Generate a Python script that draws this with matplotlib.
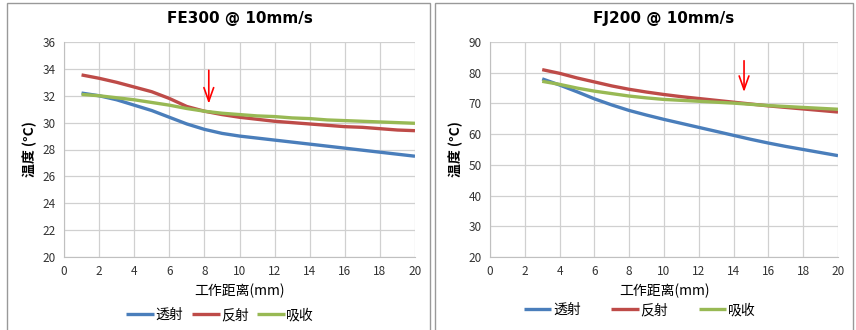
import matplotlib.pyplot as plt
from matplotlib.patches import Rectangle

plt.rcParams['font.family'] = ['Noto Sans CJK SC', 'DejaVu Sans']

# FE300 @ 10mm/s
x_fe = [1, 2, 3, 4, 5, 6, 7, 8, 9, 10, 11, 12, 13, 14, 15, 16, 17, 18, 19, 20]
fe_trans = [32.2, 32.0, 31.7, 31.3, 30.9, 30.4, 29.9, 29.5, 29.2, 29.0,
            28.85, 28.7, 28.55, 28.4, 28.25, 28.1, 27.95, 27.8, 27.65, 27.5]
fe_refl = [33.55, 33.3, 33.0, 32.65, 32.3, 31.8, 31.2, 30.85, 30.6, 30.4,
           30.25, 30.1, 30.0, 29.9, 29.8, 29.7, 29.65, 29.55, 29.45, 29.4]
fe_abs = [32.1, 32.0, 31.85, 31.7, 31.5, 31.3, 31.05, 30.85, 30.7, 30.6,
          30.5, 30.45, 30.35, 30.3, 30.2, 30.15, 30.1, 30.05, 30.0, 29.95]

# FJ200 @ 10mm/s
x_fj = [3, 4, 5, 6, 7, 8, 9, 10, 11, 12, 13, 14, 15, 16, 17, 18, 19, 20]
fj_trans = [78, 76, 73.8, 71.5, 69.5, 67.7, 66.2, 64.8, 63.5, 62.2,
            60.9, 59.6, 58.3, 57.1, 56.0, 55.0, 54.0, 53.0]
fj_refl = [81, 79.8, 78.3, 77, 75.7, 74.6, 73.7, 72.9, 72.2, 71.6,
           71.0, 70.4, 69.8, 69.2, 68.7, 68.2, 67.7, 67.2]
fj_abs = [77.2, 76.2, 75, 74, 73.2, 72.4, 71.8, 71.3, 71.0, 70.7,
          70.4, 70.1, 69.7, 69.3, 69.0, 68.7, 68.4, 68.1]

labels = ['透射', '反射', '吸收']
colors = ['#4A7EBB', '#BE4B48', '#98B954']

fig = plt.figure(figsize=(8.56, 3.3), dpi=100)

# panel frames
fig.patches.append(Rectangle((7/856, -0.1), (430-7)/856, 1.1 - 3/330, transform=fig.transFigure,
                             fill=False, edgecolor='#999999', lw=1))
fig.patches.append(Rectangle((435/856, -0.1), (853-435)/856, 1.1 - 3/330, transform=fig.transFigure,
                             fill=False, edgecolor='#999999', lw=1))

ax1 = fig.add_axes([64/856, 1 - 257/330, (415-64)/856, (257-42)/330])
ax2 = fig.add_axes([490/856, 1 - 257/330, (838-490)/856, (257-42)/330])

panels = [
    (ax1, 'FE300 @ 10mm/s', x_fe, [fe_trans, fe_refl, fe_abs], (20, 36, 2), (8.25, 34.1, 31.2)),
    (ax2, 'FJ200 @ 10mm/s', x_fj, [fj_trans, fj_refl, fj_abs], (20, 90, 10), (14.6, 84.8, 72.8)),
]

for ax, title, xs, series, (ylo, yhi, ystep), (ax_x, ay0, ay1) in panels:
    for ys, lab, c in zip(series, labels, colors):
        ax.plot(xs, ys, color=c, lw=2.4, label=lab, solid_capstyle='butt', solid_joinstyle='round')
    ax.set_xlim(0, 20)
    ax.set_ylim(ylo, yhi)
    ax.set_xticks(range(0, 21, 2))
    ax.set_yticks(range(ylo, yhi + 1, ystep))
    ax.grid(True, color='#D0D0D0', lw=0.9)
    ax.set_axisbelow(True)
    for side in ['top', 'right']:
        ax.spines[side].set_visible(False)
    for side in ['left', 'bottom']:
        ax.spines[side].set_color('#C0C0C0')
    ax.tick_params(length=0, labelsize=8.5, colors='#333333', pad=6)
    ax.set_title(title, fontsize=11, fontweight='bold', pad=14, family='DejaVu Sans')
    ax.set_xlabel('工作距离(mm)', fontsize=10, labelpad=4)
    ax.set_ylabel('温度 (°C)', fontsize=10, fontweight='bold', labelpad=4)
    ax.annotate('', xy=(ax_x, ay1), xytext=(ax_x, ay0),
                arrowprops=dict(arrowstyle='->,head_width=0.25,head_length=0.7',
                                color='red', lw=1.2, mutation_scale=14))

ax1.legend(loc='center', bbox_to_anchor=(0.445, -0.27), ncol=3, frameon=False,
           fontsize=10, handlelength=2.0, handletextpad=0.1, columnspacing=0.6)
ax2.legend(loc='center', bbox_to_anchor=(0.43, -0.247), ncol=3, frameon=False,
           fontsize=10, handlelength=2.0, handletextpad=0.1, columnspacing=2.2)

fig.savefig('out.png', dpi=100)
